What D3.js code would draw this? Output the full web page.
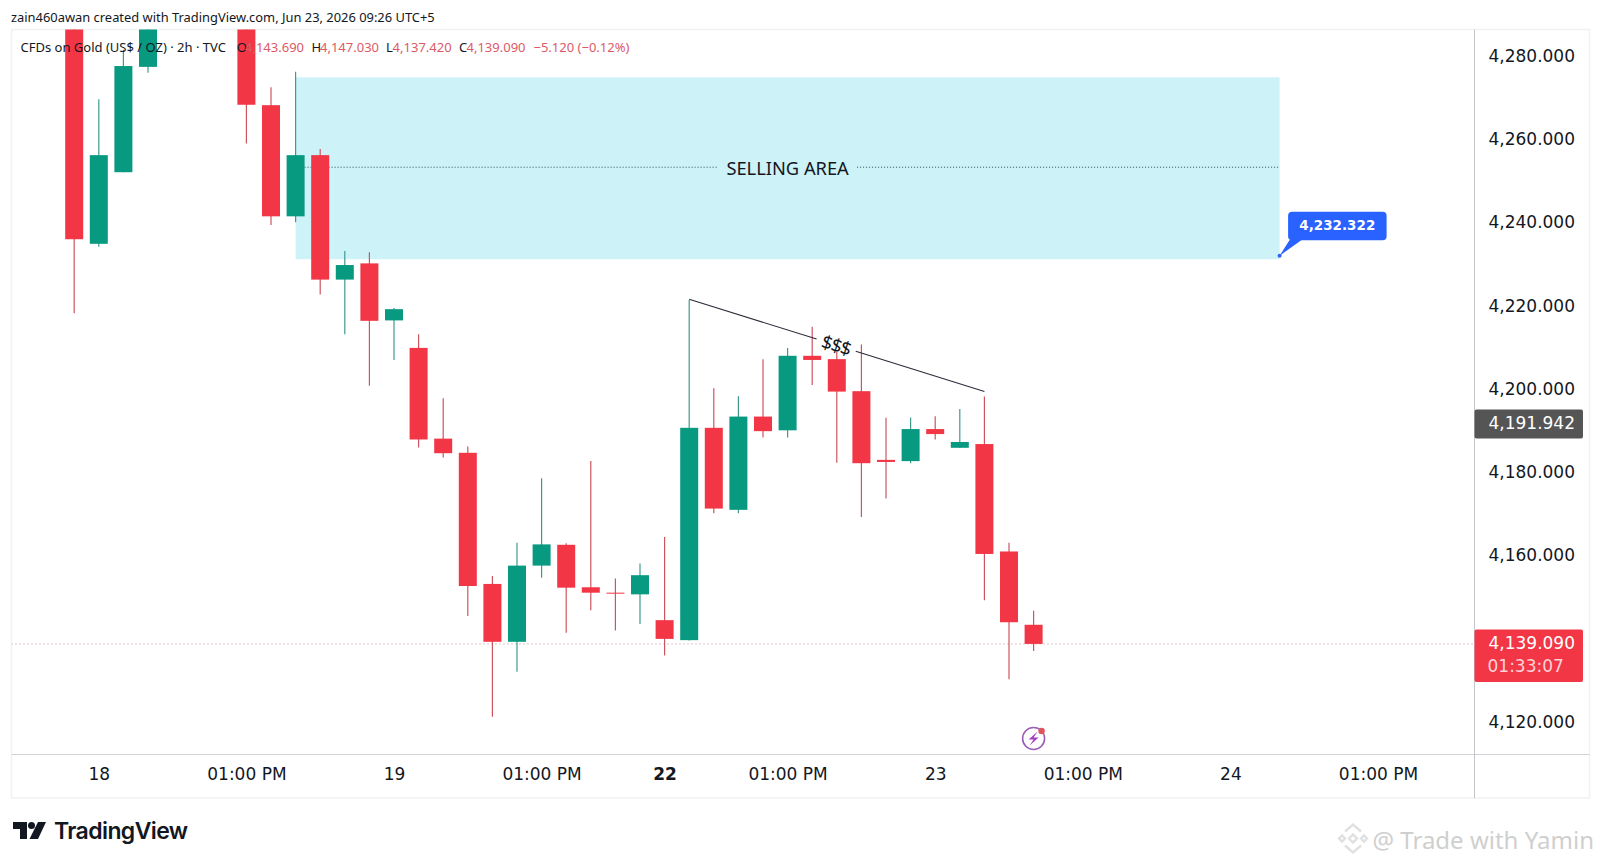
<!DOCTYPE html>
<html>
<head>
<meta charset="utf-8">
<script src="https://cdn.jsdelivr.net/npm/d3@7"></script>
<style>
  html, body { margin: 0; padding: 0; background: #fff; }
  svg { display: block; }
  text { font-family: "Noto Sans", sans-serif; }
  .axis-font { font-family: "DejaVu Sans", sans-serif; }
</style>
</head>
<body>
<div id="chart"></div>
<script>
// bar number counted from the "18" session open, candles above the pane are left out
const barIndex = [-1, 0, 1, 2, 6, 7, 8, 9, 10, 11, 12, 13, 14, 15, 16, 17, 18, 19, 20, 21, 22, 23, 24, 25, 26, 27, 28, 29, 30, 31, 32, 33, 34, 35, 36, 37, 38];
const opens  = [4300, 4235.2, 4252.4, 4277.7, 4300, 4268.5, 4241.8, 4256.5, 4226.6, 4230.5, 4216.8, 4210.2, 4188.4, 4185.0, 4153.5, 4139.6, 4157.9, 4162.9, 4152.7, 4151.4, 4151.0, 4144.8, 4140.0, 4191.0, 4171.3, 4193.7, 4190.4, 4208.3, 4207.5, 4199.8, 4183.3, 4183.0, 4190.7, 4186.2, 4187.1, 4161.3, 4143.69];
const highs  = [4305, 4269.9, 4281.8, 4297, 4305, 4272.8, 4276.5, 4258.0, 4233.5, 4233.2, 4219.8, 4213.5, 4198.1, 4186.5, 4155.4, 4163.4, 4178.9, 4163.3, 4183.0, 4154.8, 4158.4, 4164.8, 4221.7, 4200.5, 4198.6, 4207.5, 4210.2, 4215.3, 4209.3, 4211.0, 4193.4, 4193.5, 4193.8, 4195.5, 4198.5, 4163.4, 4147.03];
const lows   = [4218.5, 4234.5, 4252.4, 4276.3, 4259.3, 4239.7, 4240.4, 4223.0, 4213.5, 4201.1, 4207.3, 4186.3, 4183.9, 4145.8, 4121.6, 4132.4, 4155.0, 4141.8, 4147.2, 4142.3, 4143.9, 4136.3, 4139.9, 4170.5, 4170.5, 4188.7, 4188.7, 4201.3, 4182.6, 4169.6, 4174.0, 4182.5, 4188.2, 4186.2, 4149.6, 4130.6, 4137.42];
const closes = [4236.3, 4256.5, 4277.9, 4292, 4268.6, 4241.8, 4256.5, 4226.6, 4230.1, 4216.7, 4219.5, 4188.2, 4184.9, 4153.0, 4139.6, 4157.9, 4163.0, 4152.6, 4151.4, 4151.2, 4155.6, 4140.3, 4191.0, 4171.6, 4193.7, 4190.2, 4208.3, 4207.3, 4199.7, 4182.5, 4182.8, 4190.7, 4189.5, 4187.6, 4160.7, 4144.3, 4139.09];

const priceTicks = [4280, 4260, 4240, 4220, 4200, 4180, 4160, 4120];
const timeTickBars = [0, 6, 12, 18, 23, 28, 34, 40, 46, 52];
const timeTickLabels = ["18", "01:00 PM", "19", "01:00 PM", "22", "01:00 PM", "23", "01:00 PM", "24", "01:00 PM"];

const sellingArea = { bar0: 8, bar1: 48, top: 4275.2, bottom: 4231.5 };
const trendBars = [24, 36];
const trendPrices = [4221.9, 4199.7];
const trendGapBars = [29.18, 30.77];
const calloutBar = 48;
const calloutPrice = 4232.322;
const lastPrice = 4139.09;
const greyPrice = 4191.942;

const legendTexts = ["CFDs on Gold (US$ / OZ) · 2h · TVC", "O", "4,143.690", "H", "4,147.030", "L", "4,137.420", "C", "4,139.090", "−5.120 (−0.12%)"];
const legendColours = ["#131722", "#131722", "#dc5a66", "#131722", "#dc5a66", "#131722", "#dc5a66", "#131722", "#dc5a66", "#dc5a66"];
const legendLeft = [20.5, 236.7, 245, 311.4, 320, 386, 392.6, 459, 466.5, 533.5];

const up = "#089981", down = "#f23645";
const upWick = "#3f9a8c", downWick = "#cc5560";
const width = 1600, height = 864;
const pane = { left: 11.5, right: 1474.5, top: 29.5, bottom: 754.5, outerRight: 1589.5, outerBottom: 798 };

const x = d3.scaleLinear().domain([0, 38]).range([98.8, 1033.6]);
const y = d3.scaleLinear().domain([4280, 4120]).range([57.3, 723.4]);
const price = d3.format(",.3f");

const svg = d3.select("#chart").append("svg").attr("width", width).attr("height", height);

svg.append("defs").append("clipPath").attr("id", "pane-clip").append("rect")
  .attr("x", pane.left).attr("y", pane.top)
  .attr("width", pane.right - pane.left).attr("height", pane.bottom - pane.top);

// frame round the chart
svg.append("rect")
  .attr("x", pane.left).attr("y", pane.top)
  .attr("width", pane.outerRight - pane.left).attr("height", pane.outerBottom - pane.top)
  .attr("fill", "#fff").attr("stroke", "#f0f1f4").attr("stroke-width", 1.5);

const plot = svg.append("g").attr("clip-path", "url(#pane-clip)");

// selling area box
const boxTop = y(sellingArea.top), boxBottom = y(sellingArea.bottom);
const boxLeft = x(sellingArea.bar0), boxRight = x(sellingArea.bar1);
const boxMid = y(4253.6);
plot.append("rect")
  .attr("x", boxLeft).attr("y", boxTop)
  .attr("width", boxRight - boxLeft).attr("height", boxBottom - boxTop)
  .attr("fill", "#cdf2f8");

const boxLabel = svg.append("text")
  .attr("x", (boxLeft + boxRight) / 2).attr("y", boxMid)
  .attr("text-anchor", "middle").attr("dominant-baseline", "central")
  .attr("fill", "#131722").style("font-size", "18.3px")
  .text("SELLING AREA");
const labelBox = boxLabel.node().getBBox();
[[boxLeft, labelBox.x - 8], [labelBox.x + labelBox.width + 8, boxRight]].forEach(s => {
  plot.append("line")
    .attr("x1", s[0]).attr("x2", s[1]).attr("y1", boxMid).attr("y2", boxMid)
    .attr("stroke", "#27534f").attr("stroke-width", 1).attr("stroke-dasharray", "1 2");
});

// last price line
plot.append("line")
  .attr("x1", pane.left).attr("x2", pane.right)
  .attr("y1", y(lastPrice)).attr("y2", y(lastPrice))
  .attr("stroke", "#c08a8f").attr("stroke-width", 1).attr("stroke-dasharray", "1 3");

// candles
const candles = barIndex.map((b, i) => ({ bar: b, o: opens[i], h: highs[i], l: lows[i], c: closes[i] }));
const barWidth = 18;

plot.selectAll(".wick").data(candles).enter().append("line")
  .attr("class", "wick")
  .attr("x1", d => x(d.bar)).attr("x2", d => x(d.bar))
  .attr("y1", d => y(d.h)).attr("y2", d => y(d.l))
  .attr("stroke", d => d.c >= d.o ? upWick : downWick).attr("stroke-width", 1.2);

plot.selectAll(".body").data(candles).enter().append("rect")
  .attr("class", "body")
  .attr("x", d => x(d.bar) - barWidth / 2)
  .attr("width", barWidth)
  .attr("y", d => y(Math.max(d.o, d.c)))
  .attr("height", d => Math.max(1, Math.abs(y(d.o) - y(d.c))))
  .attr("fill", d => d.c >= d.o ? up : down);

// trend line with the $$$ label in its gap
const trendAt = d3.scaleLinear().domain(trendBars).range(trendPrices);
[[trendBars[0], trendGapBars[0]], [trendGapBars[1], trendBars[1]]].forEach(s => {
  plot.append("line")
    .attr("x1", x(s[0])).attr("y1", y(trendAt(s[0])))
    .attr("x2", x(s[1])).attr("y2", y(trendAt(s[1])))
    .attr("stroke", "#2a2e39").attr("stroke-width", 1.1);
});
const midBar = (trendGapBars[0] + trendGapBars[1]) / 2;
const trendAngle = Math.atan2(y(trendPrices[1]) - y(trendPrices[0]), x(trendBars[1]) - x(trendBars[0])) * 180 / Math.PI;
svg.append("text")
  .attr("transform", `translate(${x(midBar)},${y(trendAt(midBar))}) rotate(${trendAngle})`)
  .attr("text-anchor", "middle").attr("dominant-baseline", "central")
  .attr("fill", "#131722").style("font-size", "19px").style("letter-spacing", "-1px")
  .text("$$$");

// price axis
const yAxis = d3.axisRight(y).tickValues(priceTicks).tickSize(0).tickPadding(0).tickFormat(price);
const yG = svg.append("g").attr("transform", `translate(${pane.right},0)`).call(yAxis);
yG.select(".domain").remove();
yG.selectAll("text")
  .attr("class", "axis-font")
  .attr("x", 100.5).attr("dy", "0.24em")
  .attr("text-anchor", "end").attr("fill", "#131722")
  .style("font-size", "17px");

// time axis
const xAxis = d3.axisBottom(x).tickValues(timeTickBars).tickSize(0).tickPadding(0).tickFormat((d, i) => timeTickLabels[i]);
const xG = svg.append("g").attr("transform", `translate(0,${pane.bottom})`).call(xAxis);
xG.select(".domain").remove();
xG.selectAll("text")
  .attr("class", "axis-font")
  .attr("y", 20).attr("dy", "0.35em")
  .attr("fill", "#131722")
  .style("font-size", "17px")
  .style("font-weight", d => d === 23 ? 700 : 400);

// pane borders
svg.append("line").attr("x1", pane.left).attr("x2", pane.outerRight)
  .attr("y1", pane.bottom).attr("y2", pane.bottom).attr("stroke", "#d0d2d6");
svg.append("line").attr("x1", pane.right).attr("x2", pane.right)
  .attr("y1", pane.top).attr("y2", pane.outerBottom).attr("stroke", "#c4c6ca");

// grey price tag
svg.append("rect")
  .attr("x", pane.right).attr("y", y(greyPrice) - 14.5)
  .attr("width", 108.5).attr("height", 29).attr("rx", 2)
  .attr("fill", "#555");
svg.append("text")
  .attr("class", "axis-font")
  .attr("x", 1575).attr("y", y(greyPrice) - 1).attr("text-anchor", "end").attr("dominant-baseline", "central")
  .attr("fill", "#fff").style("font-size", "17px")
  .text(price(greyPrice));

// last price tag with countdown
svg.append("rect")
  .attr("x", pane.right).attr("y", y(lastPrice) - 14.5)
  .attr("width", 108.5).attr("height", 52.5).attr("rx", 2)
  .attr("fill", down);
svg.append("text")
  .attr("class", "axis-font")
  .attr("x", 1575).attr("y", y(lastPrice) - 1).attr("text-anchor", "end").attr("dominant-baseline", "central")
  .attr("fill", "#fff").style("font-size", "17px")
  .text(price(lastPrice));
svg.append("text")
  .attr("class", "axis-font")
  .attr("x", 1487.5).attr("y", y(lastPrice) + 22).attr("dominant-baseline", "central")
  .attr("fill", "#fcd3d7").style("font-size", "17px")
  .text("01:33:07");

// blue callout
const calloutX = x(calloutBar), calloutY = y(calloutPrice);
const callout = svg.append("g");
callout.append("path")
  .attr("d", d3.line()([[calloutX, calloutY], [calloutX + 10, calloutY - 15.7], [calloutX + 22, calloutY - 15.7]]))
  .attr("fill", "#2962ff");
callout.append("circle").attr("cx", calloutX).attr("cy", calloutY).attr("r", 2).attr("fill", "#2962ff");
callout.append("rect")
  .attr("x", calloutX + 8.5).attr("y", calloutY - 44)
  .attr("width", 98.5).attr("height", 28.5).attr("rx", 4)
  .attr("fill", "#2962ff");
callout.append("text")
  .attr("class", "axis-font")
  .attr("x", calloutX + 57.7).attr("y", calloutY - 30.5).attr("text-anchor", "middle").attr("dominant-baseline", "central")
  .attr("fill", "#fff").style("font-size", "13.5px").style("font-weight", 700)
  .text(price(calloutPrice));

// legend row, on top of the candles
legendTexts.forEach((t, i) => {
  svg.append("text")
    .attr("x", legendLeft[i]).attr("y", 47).attr("dominant-baseline", "central")
    .attr("fill", legendColours[i]).style("font-size", "13px")
    .text(t);
});

// header
svg.append("text")
  .attr("x", 11).attr("y", 17).attr("dominant-baseline", "central")
  .attr("fill", "#131722").style("font-size", "12.9px")
  .text("zain460awan created with TradingView.com, Jun 23, 2026 09:26 UTC+5");

// lightning badge under the last candle
const badge = svg.append("g").attr("transform", `translate(${x(38)},738.5)`);
badge.append("circle").attr("r", 11).attr("fill", "none").attr("stroke", "#9a5fb4").attr("stroke-width", 1.6);
badge.append("path").attr("d", "M4-7L-5 1H0L-4 7L5-1H0Z").attr("fill", "#a33fc0");
badge.append("circle").attr("cx", 8).attr("cy", -7.5).attr("r", 3.2).attr("fill", "#e0545c");

// TradingView logo
const logo = svg.append("g").attr("transform", "translate(13,822)").attr("fill", "#131722");
logo.append("path").attr("d", "M0 0H14V17H7V7H0Z");
logo.append("circle").attr("cx", 18.5).attr("cy", 3.5).attr("r", 3.5);
logo.append("path").attr("d", "M25 0H33L25 17H16.5Z");
svg.append("text")
  .attr("x", 54).attr("y", 831).attr("dominant-baseline", "central")
  .attr("fill", "#131722").style("font-family", "Inter, sans-serif").style("font-size", "23px").style("font-weight", 600).style("letter-spacing", "-0.6px")
  .text("TradingView");

// watermark
const mark = svg.append("g").attr("transform", "translate(1353,838.5)").attr("fill", "none").attr("stroke", "#e0e0e0").attr("stroke-width", 2.4);
mark.append("path").attr("d", "M-8-7L0-14L8-7M-8 7L0 14L8 7M-14 0L-11-3L-8 0L-11 3ZM8 0L11-3L14 0L11 3Z");
mark.append("path").attr("d", "M-4 0L0-4L4 0L0 4Z");
svg.append("text")
  .attr("x", 1372.5).attr("y", 839).attr("dominant-baseline", "central")
  .attr("fill", "#cfcfcf").style("font-size", "24px")
  .text("@ Trade with Yamin");
</script>
</body>
</html>
